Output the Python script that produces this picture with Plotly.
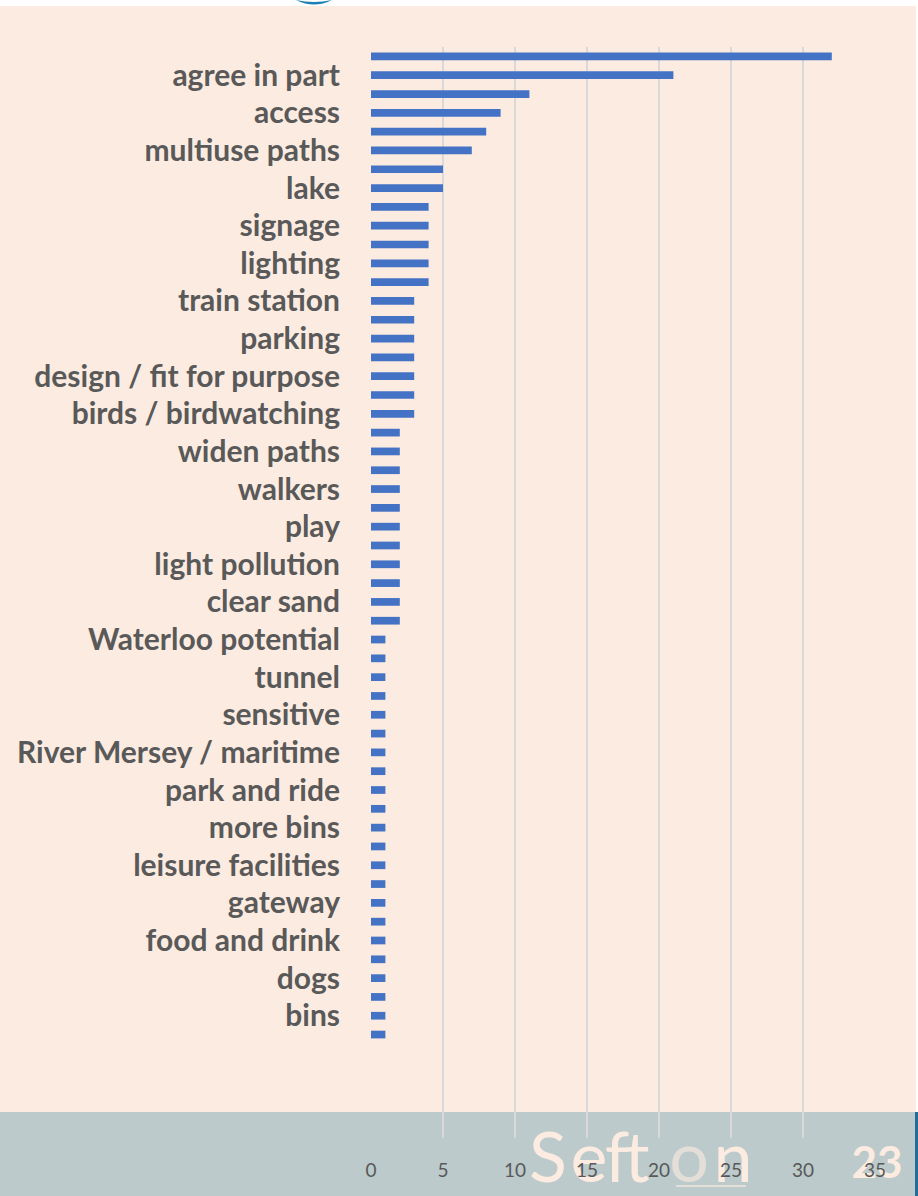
import plotly.graph_objects as go

# ---------------- data ----------------
# 53 categories from top to bottom; only every other one carries a visible label
labels = [
    "agree in part", "access", "multiuse paths", "lake", "signage", "lighting",
    "train station", "parking", "design / fit for purpose", "birds / birdwatching",
    "widen paths", "walkers", "play", "light pollution", "clear sand",
    "Waterloo potential", "tunnel", "sensitive", "River Mersey / maritime",
    "park and ride", "more bins", "leisure facilities", "gateway",
    "food and drink", "dogs", "bins",
]
values = [
    32, 21, 11, 9, 8, 7, 5, 5,
    4, 4, 4, 4, 4,
    3, 3, 3, 3, 3, 3, 3,
    2, 2, 2, 2, 2, 2, 2, 2, 2, 2, 2,
    1, 1, 1, 1, 1, 1, 1, 1, 1, 1, 1, 1, 1, 1, 1, 1, 1, 1, 1, 1, 1, 1,
]
x_ticks = [0, 5, 10, 15, 20, 25, 30, 35]

positions = list(range(len(values)))
label_positions = [2 * i + 1 for i in range(len(labels))]

# ---------------- layout geometry (pixels) ----------------
W, H = 918, 1196
L, R, T, B = 371, 875, 47, 1138
Y_MAX = 57.5

PEACH = "#FCEBE0"
BAND = "#BCCACB"
TXT = "#595959"
O_COL = "#E4DED8"

fig = go.Figure()

# decoration subplot (xy) uses pixel coordinates over the whole page
sefton_letters = ["S", "e", "f", "t", "o", "n"]
sefton_px = [548, 589, 617, 637, 689, 733]
sefton_cols = [PEACH, PEACH, PEACH, PEACH, O_COL, PEACH]
fig.add_trace(go.Scatter(
    x=sefton_px, y=[1164] * 6, mode="text",
    text=sefton_letters, textposition="middle center",
    textfont=dict(family="Lato", size=70, color=sefton_cols),
    hoverinfo="skip", showlegend=False, xaxis="x", yaxis="y",
))
fig.add_trace(go.Scatter(
    x=[877], y=[1167], mode="text", text=["<b>23</b>"],
    textposition="middle center",
    textfont=dict(family="Lato", size=44, color=PEACH),
    hoverinfo="skip", showlegend=False, xaxis="x", yaxis="y",
))

# main chart (x2y2), drawn above the decoration
fig.add_trace(go.Bar(
    x=values, y=positions, orientation="h",
    marker=dict(color="#4472C4", line=dict(width=0)),
    width=0.41, hoverinfo="skip", xaxis="x2", yaxis="y2",
))

shapes = [
    dict(type="rect", xref="x", yref="y", x0=0, x1=915, y0=1112, y1=1196,
         fillcolor=BAND, line=dict(width=0), layer="below"),
    dict(type="rect", xref="x", yref="y", x0=915, x1=918, y0=1112, y1=1196,
         fillcolor="#1F6E9C", line=dict(width=0), layer="below"),
    dict(type="rect", xref="x", yref="y", x0=0, x1=918, y0=0, y1=6,
         fillcolor="white", line=dict(width=0), layer="below"),
    dict(type="rect", xref="x", yref="y", x0=916, x1=918, y0=0, y1=1112,
         fillcolor="white", line=dict(width=0), layer="below"),
    dict(type="path", xref="x", yref="y",
         path="M 296 0 Q 314 9 332 0 Q 314 4 296 0 Z",
         fillcolor="#1B80B8", line=dict(width=0), layer="below"),
    dict(type="line", xref="x", yref="y", x0=676, x1=746, y0=1186, y1=1186,
         line=dict(color=O_COL, width=2)),
]

fig.update_layout(
    template="none",
    width=W, height=H, autosize=False,
    margin=dict(l=0, r=0, t=0, b=0, pad=0, autoexpand=False),
    paper_bgcolor=PEACH, plot_bgcolor="rgba(0,0,0,0)",
    showlegend=False, bargap=0.59,
    shapes=shapes,
    xaxis=dict(domain=[0, 1], range=[0, W], visible=False, fixedrange=True,
               automargin=False),
    yaxis=dict(domain=[0, 1], range=[H, 0], visible=False, fixedrange=True,
               automargin=False),
    xaxis2=dict(
        domain=[L / W, R / W], anchor="y2", automargin=False,
        range=[0, 35], tickvals=x_ticks, ticktext=[str(v) for v in x_ticks],
        showgrid=True, gridcolor="#D9D9D9", gridwidth=2,
        zeroline=False, showline=False, ticks="",
        tickfont=dict(family="Lato", size=19, color=TXT),
        ticklabelstandoff=19, fixedrange=True,
    ),
    yaxis2=dict(
        domain=[(H - B) / H, (H - T) / H], anchor="x2", automargin=False,
        range=[Y_MAX, -0.5], tickvals=label_positions, ticktext=labels,
        showgrid=False, zeroline=False, showline=False, ticks="",
        tickfont=dict(family="Lato", size=30, color=TXT, weight="bold"),
        ticklabelstandoff=30, fixedrange=True,
    ),
    font=dict(family="Lato"),
)

fig.write_html("out.html", config={"displayModeBar": False},
               post_script="document.body.style.margin='0';")
